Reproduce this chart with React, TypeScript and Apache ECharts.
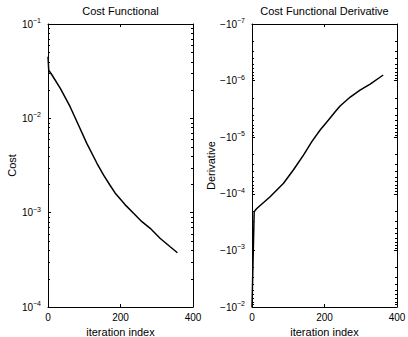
import React, { useEffect, useRef } from "react";
import * as echarts from "echarts";

const FONT = "'Liberation Sans', Arial, Helvetica, sans-serif";

// Left panel: cost functional (log scale)
const costIter = [0, 2, 11, 34, 61, 84, 107, 135, 153, 172, 185, 213, 236, 259, 282, 309, 337, 357];
const costValue = [0.045, 0.0325, 0.0288, 0.0208, 0.01328, 0.00849, 0.00543, 0.00334, 0.00251, 0.00193, 0.00162, 0.00121, 0.000984, 0.000802, 0.000682, 0.000535, 0.000435, 0.000376];

// Right panel: magnitude of (negative) derivative, log scale
const derivIter = [0, 6, 9, 14, 50, 87, 114, 142, 165, 188, 211, 230, 243, 257, 271, 298, 326, 362];
const derivMagnitude = [1.0e-2, 2.1e-4, 1.95e-4, 1.8e-4, 1.125e-4, 6.5e-5, 3.8e-5, 2.07e-5, 1.2e-5, 7.46e-6, 4.97e-6, 3.52e-6, 2.81e-6, 2.34e-6, 1.95e-6, 1.47e-6, 1.15e-6, 7.96e-7];

const xTicks = [0, 200, 400];
const costDecades = [-4, -3, -2];
const derivDecades = [-7, -6, -5, -4, -3];
const minorMultipliers = [2, 3, 4, 5, 6, 7, 8, 9];

const minorValues = (decades: number[]) => {
  const out: number[][] = [];
  decades.forEach((d) => minorMultipliers.forEach((m) => out.push([0, m * Math.pow(10, d)])));
  return out;
};

const supLabel = (prefix: string) => (v: number) => {
  const e = Math.round(Math.log10(v));
  return `{b|${prefix}10}{s|${e < 0 ? "\u2212" : ""}${Math.abs(e)}}`;
};

const richLabel = {
  b: { fontSize: 10, lineHeight: 14, fontFamily: FONT, color: "#000" },
  s: { fontSize: 7, lineHeight: 7, verticalAlign: "top", fontFamily: FONT, color: "#000" },
};

export default function App() {
  const ref = useRef<HTMLDivElement>(null);
  useEffect(() => {
    if (!ref.current) return;
    const chart = echarts.init(ref.current, undefined, { renderer: "svg" });
    const xMin = xTicks[0];
    const xMax = xTicks[xTicks.length - 1];
    const xInterval = xTicks[1] - xTicks[0];
    const baseX = (gridIndex: number, position: "top" | "bottom", name: string) => ({
      type: "value",
      gridIndex,
      position,
      min: xMin,
      max: xMax,
      interval: xInterval,
      name,
      nameLocation: "middle",
      nameGap: 18,
      nameTextStyle: { fontSize: 11, fontFamily: FONT, color: "#000" },
      axisLine: { show: true, onZero: false, lineStyle: { color: "#000", width: 1 } },
      axisTick: { show: true, inside: true, length: 3, lineStyle: { color: "#000" } },
      axisLabel: {
        show: position === "bottom",
        fontSize: 10,
        fontFamily: FONT,
        color: "#000",
        margin: 5,
      },
      splitLine: { show: false },
    });
    const baseY = (
      gridIndex: number,
      position: "left" | "right",
      min: number,
      max: number,
      split: number,
      inverse: boolean,
      prefix: string,
      name: string,
      nameGap: number
    ) => ({
      type: "log",
      logBase: 10,
      gridIndex,
      position,
      min,
      max,
      splitNumber: split,
      inverse,
      name: position === "left" ? name : "",
      nameLocation: "middle",
      nameGap,
      nameTextStyle: { fontSize: 11, fontFamily: FONT, color: "#000" },
      axisLine: { show: true, onZero: false, lineStyle: { color: "#000", width: 1 } },
      axisTick: { show: true, inside: true, length: 3, lineStyle: { color: "#000" } },
      axisLabel: {
        show: position === "left",
        formatter: supLabel(prefix),
        rich: richLabel,
        margin: 7,
      },
      splitLine: { show: false },
    });

    const minorSeries = (xAxisIndex: number, yAxisIndex: number, data: number[][]) => ({
      type: "custom",
      xAxisIndex,
      yAxisIndex,
      silent: true,
      clip: false,
      data,
      renderItem: (params: any, api: any) => {
        const v = api.value(1);
        const l = api.coord([xMin, v]);
        const r = api.coord([xMax, v]);
        const y = Math.round(l[1]) + 0.5;
        return {
          type: "group",
          children: [
            { type: "line", shape: { x1: l[0], y1: y, x2: l[0] + 2, y2: y }, style: { stroke: "#000", lineWidth: 1 } },
            { type: "line", shape: { x1: r[0] - 2, y1: y, x2: r[0], y2: y }, style: { stroke: "#000", lineWidth: 1 } },
          ],
        };
      },
    });

    chart.setOption({
      animation: false,
      backgroundColor: "#fff",
      title: [
        {
          text: "Cost Functional",
          left: 120.5,
          top: 5,
          padding: 0,
          textAlign: "center",
          textStyle: { fontSize: 11, fontWeight: "normal", fontFamily: FONT, color: "#000" },
        },
        {
          text: "Cost Functional Derivative",
          left: 324.5,
          top: 5,
          padding: 0,
          textAlign: "center",
          textStyle: { fontSize: 11, fontWeight: "normal", fontFamily: FONT, color: "#000" },
        },
      ],
      grid: [
        { left: 48, top: 24, width: 145, height: 283, outerBoundsMode: "none", containLabel: false },
        { left: 252, top: 24, width: 145, height: 283, outerBoundsMode: "none", containLabel: false },
      ],
      xAxis: [
        baseX(0, "bottom", "iteration index"),
        { ...baseX(0, "top", ""), name: "" },
        baseX(1, "bottom", "iteration index"),
        { ...baseX(1, "top", ""), name: "" },
      ],
      yAxis: [
        baseY(0, "left", 1e-4, 1e-1, 3, false, "", "Cost", 29),
        baseY(0, "right", 1e-4, 1e-1, 3, false, "", "", 29),
        baseY(1, "left", 1e-7, 1e-2, 5, true, "\u2212", "Derivative", 36),
        baseY(1, "right", 1e-7, 1e-2, 5, true, "\u2212", "", 36),
      ],
      series: [
        {
          type: "line",
          xAxisIndex: 0,
          yAxisIndex: 0,
          data: costIter.map((x, i) => [x, costValue[i]]),
          showSymbol: false,
          symbol: "none",
          lineStyle: { color: "#000", width: 1.5 },
          silent: true,
        },
        {
          type: "line",
          xAxisIndex: 2,
          yAxisIndex: 2,
          data: derivIter.map((x, i) => [x, derivMagnitude[i]]),
          showSymbol: false,
          symbol: "none",
          lineStyle: { color: "#000", width: 1.5 },
          silent: true,
        },
        minorSeries(0, 0, minorValues(costDecades)),
        minorSeries(2, 2, minorValues(derivDecades)),
      ],
    });
    return () => chart.dispose();
  }, []);
  return (
    <div
      ref={ref}
      style={{ position: "fixed", left: 0, top: 0, width: 408, height: 337, background: "#fff" }}
    />
  );
}
